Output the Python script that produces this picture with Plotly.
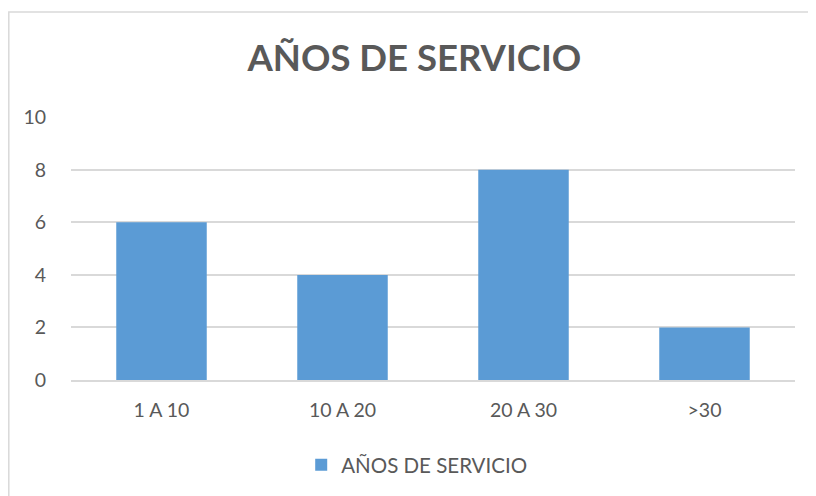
import plotly.graph_objects as go

# Chart data
categories = ['1 A 10', '10 A 20', '20 A 30', '>30']
values = [6, 4, 8, 2]
series_name = 'AÑOS DE SERVICIO'
chart_title = 'AÑOS DE SERVICIO'
y_ticks = [0, 2, 4, 6, 8, 10]

text_color = '#595959'
grid_color = '#d9d9d9'
bar_color = '#5b9bd5'

fig = go.Figure()
fig.add_trace(go.Bar(
    x=categories,
    y=values,
    name=series_name,
    width=0.5,
    marker=dict(color=bar_color, line=dict(width=0)),
    showlegend=True,
))

# the page body adds an 8px offset, so margins are shifted accordingly
fig.update_layout(
    width=816,
    height=496,
    margin=dict(l=63, r=29, t=109, b=124, autoexpand=False),
    paper_bgcolor='white',
    plot_bgcolor='white',
    font=dict(family='Lato, Open Sans, sans-serif', size=19.5, color=text_color),
    title=dict(
        text='<b>' + chart_title + '</b>',
        font=dict(family='Lato, Open Sans, sans-serif', size=36.5, color=text_color),
        x=0.498, xref='container', xanchor='center',
        y=0.899, yref='container', yanchor='middle',
    ),
    legend=dict(
        orientation='h',
        x=0.4775, xanchor='center',
        y=-0.323, yanchor='middle',
        font=dict(size=20.5, color=text_color),
    ),
    bargap=0.5,
    # outer chart border
    shapes=[dict(
        type='rect', xref='paper', yref='paper',
        x0=-0.0859, x1=1.06, y0=-0.5, y1=1.399,
        line=dict(color='#d9d9d9', width=1.5),
        fillcolor='rgba(0,0,0,0)', layer='below',
    )],
)

fig.update_yaxes(
    range=[0, 10.01],
    tickvals=y_ticks,
    showgrid=True, gridcolor=grid_color, gridwidth=1.5,
    zeroline=False, showline=False, automargin=False,
    ticks='', ticklabelstandoff=24,
)
fig.update_xaxes(
    showline=True, linecolor=grid_color, linewidth=1.5, automargin=False,
    ticks='', ticklabelstandoff=12,
)

fig.write_html('out.html')
